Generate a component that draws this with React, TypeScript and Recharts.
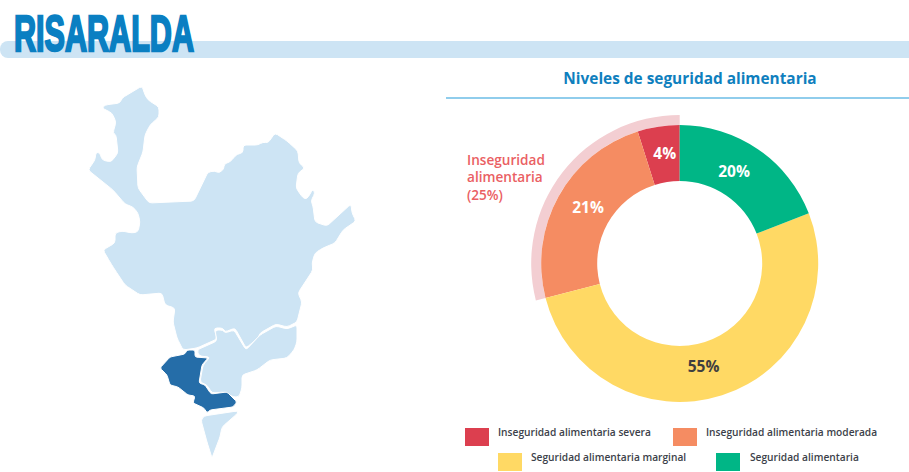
import React from "react";
import { PieChart, Pie, Cell, Legend } from "recharts";

const CATEGORIES = [
  "Inseguridad alimentaria severa",
  "Inseguridad alimentaria moderada",
  "Seguridad alimentaria marginal",
  "Seguridad alimentaria",
];
// shares as drawn in the picture, the printed labels do not quite match the arc sizes
const SHARES = [4.9, 24.1, 51.9, 19.1];
const PRINTED = ["4%", "21%", "55%", "20%"];
const COLORS = ["#dc3f4f", "#f58c62", "#ffd964", "#00b686"];
const LABEL_COLORS = ["#ffffff", "#ffffff", "#3f3f3f", "#ffffff"];
const INSECURE_SHARES = [29, 71];
const INSECURE_LINES = ["Inseguridad", "alimentaria", "(25%)"];

const LABEL_NUDGE = [
  [2, -1],
  [5, -3],
  [-10, -3],
  [-8, -1],
];

const FONT = "'Open Sans', sans-serif";

const sliceData = CATEGORIES.map((name, i) => ({ name, value: SHARES[i] }));
const bandData = INSECURE_SHARES.map((value, i) => ({ name: `band-${i}`, value }));

// outlines of the department map
const MAP_NORTH =
  "142 86 145 95 148 100 159 107 159 117 150 125 145 135 143 152 137 167 138 188 149 203 194 201 208 172 215 171 219 173 224 169 224 164 230 162 237 154 243 153 243 145 258 145 263 142 268 143 275 133 287 141 298 151 299 163 305 168 298 173 296 188 303 198 307 199 313 189 315 193 311 201 313 206 315 222 327 226 351 204 352 213 356 221 343 230 335 243 323 248 315 253 312 263 313 270 298 293 302 302 297 322 287 327 276 324 260 333 258 338 246 348 235 328 225 332 223 328 214 328 217 339 197 348 183 350 177 338 173 322 175 308 165 305 162 293 140 295 125 285 115 270 110 262 103 250 115 243 115 233 122 231 132 233 138 232 140 222 138 213 133 207 125 204 113 190 88 170 95 160 96 152 100 153 102 160 111 162 118 153 116 135 113 133 116 122 112 113 102 108 105 105 120 103 122 98";
const MAP_CENTRE =
  "297 325 297 342 294 350 287 358 270 360 257 370 242 375 242 388 239 397 233 397 225 392 212 393 207 385 200 382 203 365 210 357 199 356 197 350 217 341 215 330 223 330 225 333 234 330 246 350 260 335 276 326 287 329";
const MAP_SELECTED =
  "187 350 195 350 195 357 208 358 202 365 199 383 205 385 211 394 227 392 237 402 233 407 210 410 207 413 204 408 193 403 195 396 188 395 178 387 170 385 167 375 160 368 170 357 185 354";
const MAP_SOUTH = "204 416 237 411 238 413 222 427 220 437 212 458 207 442 201 420";

// turns a traced outline into a path with slightly rounded corners
const roundedPath = (outline: string, corner = 3) => {
  const n = outline.split(" ").map(Number);
  const pts: number[][] = [];
  for (let i = 0; i < n.length; i += 2) pts.push([n[i], n[i + 1]]);
  const toward = (a: number[], b: number[]) => {
    const len = Math.hypot(b[0] - a[0], b[1] - a[1]);
    const d = Math.min(corner, len / 2) / len;
    return [a[0] + (b[0] - a[0]) * d, a[1] + (b[1] - a[1]) * d];
  };
  let d = "";
  pts.forEach((p, i) => {
    const prev = pts[(i + pts.length - 1) % pts.length];
    const next = pts[(i + 1) % pts.length];
    const s = toward(p, prev);
    const e = toward(p, next);
    d += `${i === 0 ? "M" : "L"}${s[0]} ${s[1]} Q${p[0]} ${p[1]} ${e[0]} ${e[1]} `;
  });
  return d + "Z";
};

const renderLabel = (props: any) => {
  const { cx, cy, midAngle, innerRadius, outerRadius, index } = props;
  const r = (innerRadius + outerRadius) / 2;
  const rad = (midAngle * Math.PI) / 180;
  return (
    <text
      x={cx + r * Math.cos(rad) + LABEL_NUDGE[index][0]}
      y={cy - r * Math.sin(rad) + LABEL_NUDGE[index][1]}
      fill={LABEL_COLORS[index]}
      textAnchor="middle"
      dominantBaseline="central"
      fontFamily={FONT}
      fontSize={15.5}
      fontWeight={700}
    >
      {PRINTED[index]}
    </text>
  );
};

const LegendRows = () => {
  const item = (i: number, left: number, top: number, textLeft: number) => (
    <React.Fragment key={i}>
      <div
        style={{
          position: "absolute",
          left,
          top,
          width: 24,
          height: 18,
          background: COLORS[i],
        }}
      />
      <div
        style={{
          position: "absolute",
          left: textLeft,
          top: top - 3,
          fontFamily: FONT,
          fontSize: 10.2,
          fontWeight: 600,
          lineHeight: "14px",
          color: "#3c3f4a",
          whiteSpace: "nowrap",
        }}
      >
        {CATEGORIES[i]}
      </div>
    </React.Fragment>
  );
  return (
    <div style={{ position: "relative", width: 909, height: 472 }}>
      {item(0, 465, 428, 498)}
      {item(1, 673, 428, 706)}
      {item(2, 498, 453, 531)}
      {item(3, 716, 453, 750)}
    </div>
  );
};

export default function App() {
  return (
    <div
      style={{
        position: "absolute",
        left: 0,
        top: 0,
        width: 909,
        height: 472,
        overflow: "hidden",
        background: "#ffffff",
      }}
    >
      <svg
        width={909}
        height={472}
        style={{ position: "absolute", left: 0, top: 0 }}
      >
        <path d="M8 41 H909 V58 H8 A8 8 0 0 1 0 50 V49 A8 8 0 0 1 8 41 Z" fill="#cde4f4" />
        <text
          x={14}
          y={50.5}
          fontFamily="'Liberation Sans Narrow', 'Liberation Sans', sans-serif"
          fontSize={50}
          fontWeight={700}
          fill="#0a7fc2"
          stroke="#0a7fc2"
          strokeWidth={2.4}
          textLength={180}
          lengthAdjust="spacingAndGlyphs"
        >
          RISARALDA
        </text>
        <text
          x={690}
          y={78}
          textAnchor="middle"
          dominantBaseline="central"
          fontFamily={FONT}
          fontSize={15.4}
          fontWeight={700}
          fill="#0f7fbe"
        >
          Niveles de seguridad alimentaria
        </text>
        <line x1={446} x2={909} y1={98} y2={98} stroke="#6bbce6" strokeWidth={1.5} />
        <g stroke="#ffffff" strokeWidth={1} strokeLinejoin="round">
          <path d={roundedPath(MAP_NORTH)} fill="#cde4f4" />
          <path d={roundedPath(MAP_CENTRE)} fill="#cde4f4" />
          <path d={roundedPath(MAP_SOUTH)} fill="#cde4f4" />
          <path d={roundedPath(MAP_SELECTED, 2)} fill="#256da8" />
        </g>
        {INSECURE_LINES.map((line, i) => (
          <text
            key={line}
            x={467}
            y={159 + i * 17.5}
            dominantBaseline="central"
            fontFamily={FONT}
            fontSize={13.6}
            fontWeight={600}
            fill="#ea6063"
          >
            {line}
          </text>
        ))}
      </svg>
      <div style={{ position: "absolute", left: 0, top: 0 }}>
        <PieChart
          width={909}
          height={472}
          margin={{ top: 0, right: 0, bottom: 0, left: 0 }}
        >
          <Pie
            data={bandData}
            dataKey="value"
            cx={679.7}
            cy={263.5}
            innerRadius={138.5}
            outerRadius={148.5}
            startAngle={90}
            endAngle={450}
            stroke="none"
            legendType="none"
            isAnimationActive={false}
          >
            <Cell fill="#f3ced2" />
            <Cell fill="none" />
          </Pie>
          <Pie
            data={sliceData}
            dataKey="value"
            nameKey="name"
            cx={679.7}
            cy={263.5}
            innerRadius={82.5}
            outerRadius={138.5}
            startAngle={90}
            endAngle={450}
            stroke="none"
            label={renderLabel}
            labelLine={false}
            isAnimationActive={false}
          >
            {sliceData.map((entry, i) => (
              <Cell key={entry.name} fill={COLORS[i]} />
            ))}
          </Pie>
          <Legend
            content={<LegendRows />}
            wrapperStyle={{ position: "absolute", left: 0, top: 0, width: 909, height: 472 }}
          />
        </PieChart>
      </div>
    </div>
  );
}
